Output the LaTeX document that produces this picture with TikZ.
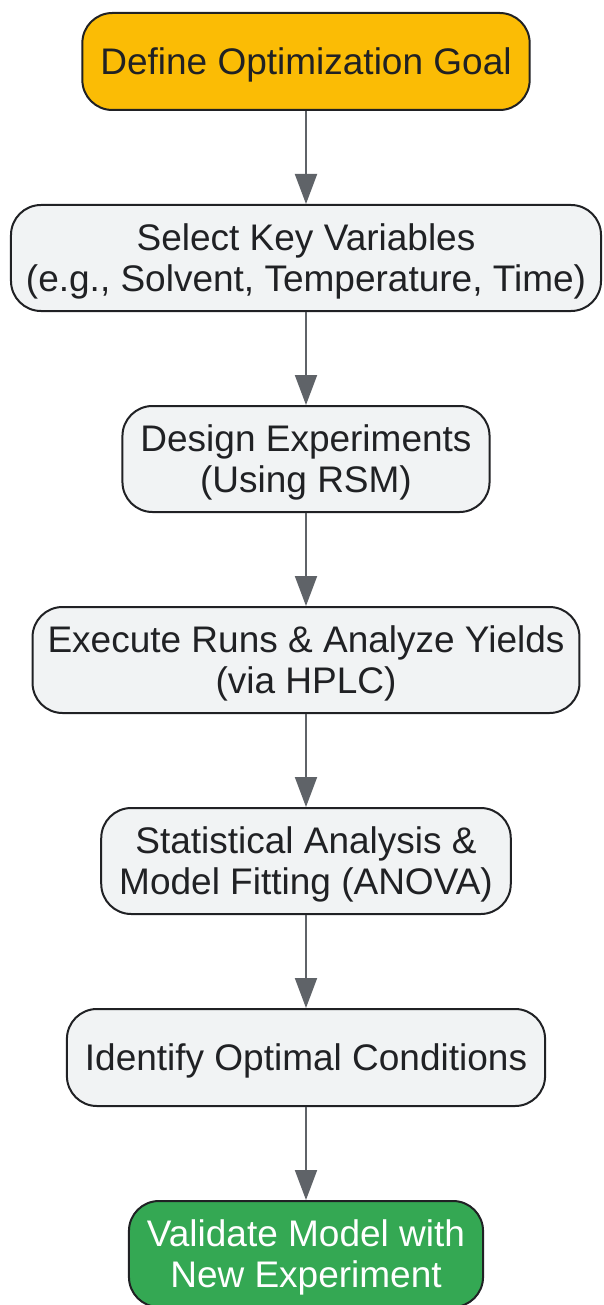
\documentclass[tikz,border=0pt]{standalone}
\usepackage{fontspec}
\setmainfont{Liberation Sans}
\usetikzlibrary{positioning,arrows.meta}
\definecolor{goalyellow}{HTML}{FBBC05}
\definecolor{okgreen}{HTML}{34A853}
\definecolor{boxgray}{HTML}{F1F3F4}
\definecolor{inkdark}{HTML}{202124}
\definecolor{arrowgray}{HTML}{5F6368}
\tikzset{
  stepbox/.style={draw=inkdark, line width=2pt, fill=boxgray, text=inkdark,
    rounded corners=30pt, align=center, inner xsep=15pt, text depth=-7pt,
    minimum height=106pt, font=\fontsize{37}{41}\selectfont},
  flow/.style={draw=arrowgray, line width=2pt, -{Triangle[width=22pt,length=30pt]}}
}
\begin{document}
\begin{tikzpicture}[x=1pt, y=1pt, node distance=93pt]
    \useasboundingbox (0,0) rectangle (604,-1305);
    \node[stepbox, fill=goalyellow, minimum height=97pt, inner xsep=18pt] (goal) at (306,-61.5) {Define Optimization Goal};
    \node[stepbox, below=of goal] (vars) {Select Key Variables\\(e.g., Solvent, Temperature, Time)};
    \node[stepbox, below=of vars, inner xsep=18pt] (design) {Design Experiments\\(Using RSM)};
    \node[stepbox, below=of design] (runs) {Execute Runs \& Analyze Yields\\(via HPLC)};
    \node[stepbox, below=of runs, inner xsep=18pt] (stats) {Statistical Analysis \&\\Model Fitting (ANOVA)};
    \node[stepbox, below=of stats, minimum height=97pt, inner xsep=18pt] (optimal) {Identify Optimal Conditions};
    \node[stepbox, below=of optimal, fill=okgreen, text=white, inner xsep=18pt] (validate) {Validate Model with\\New Experiment};
    \draw[flow] (goal) -- (vars);
    \draw[flow] (vars) -- (design);
    \draw[flow] (design) -- (runs);
    \draw[flow] (runs) -- (stats);
    \draw[flow] (stats) -- (optimal);
    \draw[flow] (optimal) -- (validate);
\end{tikzpicture}
\end{document}
